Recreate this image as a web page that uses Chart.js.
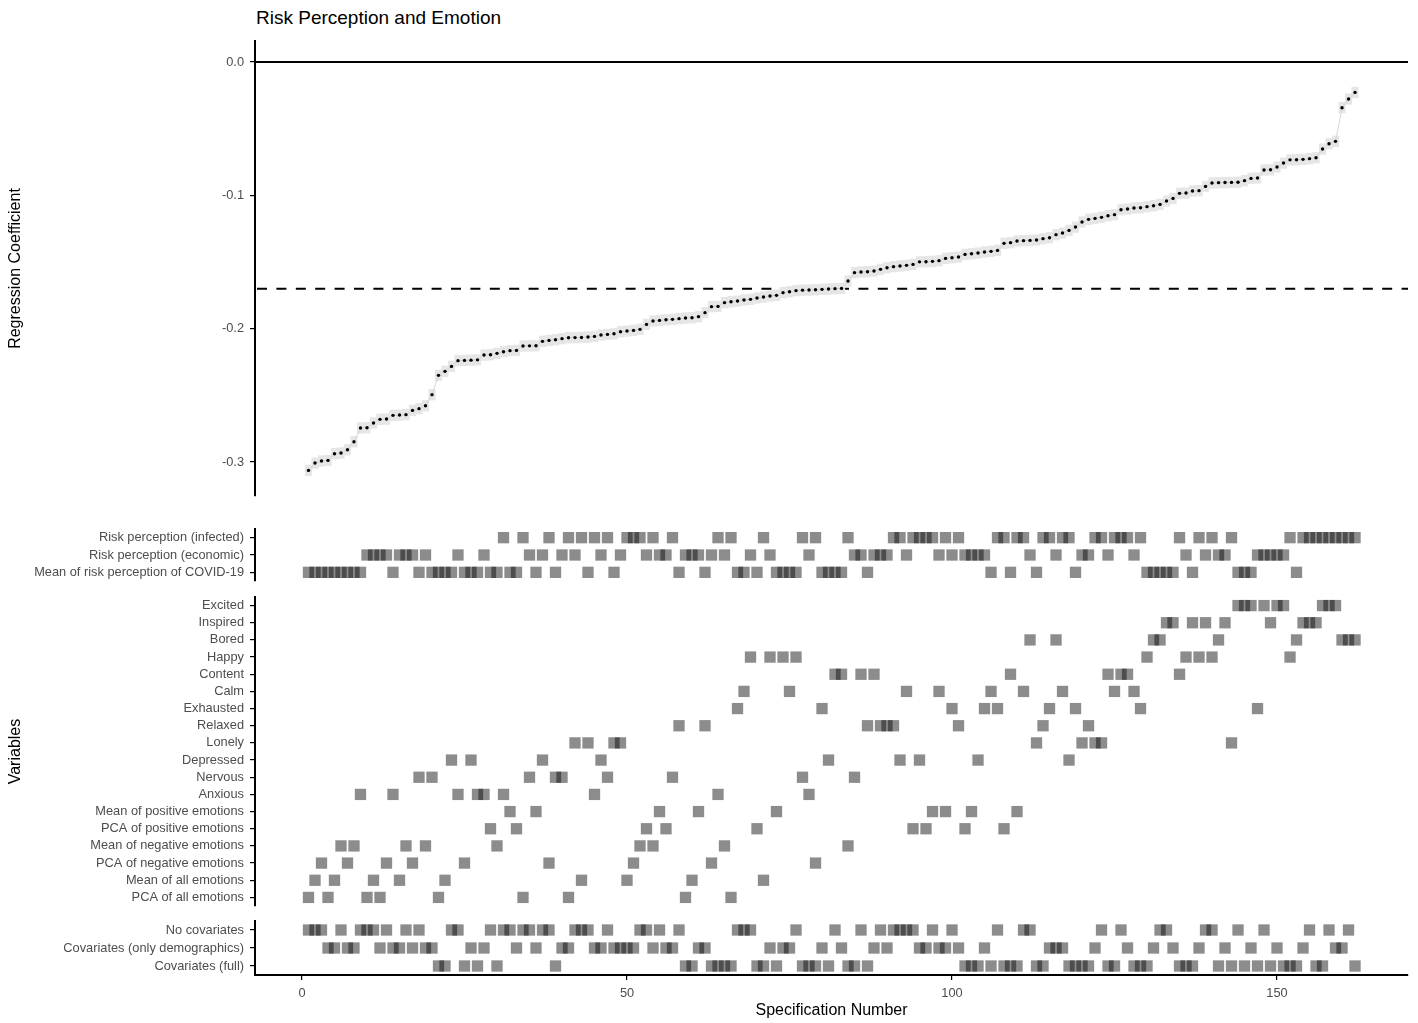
<!DOCTYPE html>
<html>
<head>
<meta charset="utf-8">
<script src="https://cdn.jsdelivr.net/npm/chart.js@4.4.0/dist/chart.umd.min.js"></script>
<style>
  html, body { margin: 0; padding: 0; background: #fff; overflow: hidden; }
  #wrap { position: relative; width: 1418px; height: 1023px; }
  #wrap canvas { position: absolute; left: 0; }
  #title { position: absolute; left: 256px; top: 8px; font: 19px/19px "Liberation Sans", Arial, sans-serif; color: #000; white-space: nowrap; }
</style>
</head>
<body>
<div id="wrap">
  <div id="title">Risk Perception and Emotion</div>
  <canvas id="curve" width="1418" height="475" style="top:31px"></canvas>
  <canvas id="risk" width="1418" height="72" style="top:519px"></canvas>
  <canvas id="emo" width="1418" height="329" style="top:587px"></canvas>
  <canvas id="cov" width="1418" height="109" style="top:911px"></canvas>
</div>
<script>
// regression coefficient per specification (spec 1..162, sorted)
const coefficients = [
  -0.3063, -0.3008, -0.2993, -0.2988, -0.2938, -0.2933, -0.2908, -0.2848, -0.2745, -0.2743,
  -0.2708, -0.2680, -0.2678, -0.2650, -0.2648, -0.2645, -0.2613, -0.2600, -0.2578, -0.2495,
  -0.2350, -0.2320, -0.2283, -0.2240, -0.2238, -0.2236, -0.2234, -0.2198, -0.2196, -0.2185,
  -0.2173, -0.2165, -0.2163, -0.2130, -0.2129, -0.2128, -0.2095, -0.2088, -0.2083, -0.2075,
  -0.2068, -0.2067, -0.2066, -0.2063, -0.2058, -0.2048, -0.2043, -0.2038, -0.2023, -0.2018,
  -0.2013, -0.2005, -0.1968, -0.1943, -0.1938, -0.1933, -0.1930, -0.1925, -0.1920, -0.1918,
  -0.1910, -0.1880, -0.1835, -0.1833, -0.1805, -0.1798, -0.1793, -0.1785, -0.1780, -0.1770,
  -0.1763, -0.1755, -0.1750, -0.1730, -0.1723, -0.1715, -0.1711, -0.1710, -0.1708, -0.1705,
  -0.1703, -0.1700, -0.1698, -0.1643, -0.1580, -0.1575, -0.1573, -0.1568, -0.1555, -0.1543,
  -0.1535, -0.1530, -0.1525, -0.1518, -0.1499, -0.1498, -0.1495, -0.1490, -0.1473, -0.1468,
  -0.1463, -0.1443, -0.1438, -0.1433, -0.1425, -0.1420, -0.1413, -0.1360, -0.1355, -0.1343,
  -0.1340, -0.1338, -0.1335, -0.1325, -0.1318, -0.1295, -0.1283, -0.1263, -0.1238, -0.1200,
  -0.1180, -0.1173, -0.1165, -0.1153, -0.1145, -0.1108, -0.1103, -0.1095, -0.1093, -0.1085,
  -0.1078, -0.1068, -0.1043, -0.1023, -0.0985, -0.0983, -0.0968, -0.0965, -0.0933, -0.0908,
  -0.0905, -0.0904, -0.0903, -0.0902, -0.0890, -0.0873, -0.0870, -0.0810, -0.0808, -0.0788,
  -0.0758, -0.0734, -0.0733, -0.0730, -0.0725, -0.0718, -0.0653, -0.0613, -0.0595, -0.0343,
  -0.0278, -0.0228
];

const riskLabels = [
  'Risk perception (infected)',
  'Risk perception (economic)',
  'Mean of risk perception of COVID-19'
];
const emotionLabels = [
  'Excited', 'Inspired', 'Bored', 'Happy', 'Content', 'Calm', 'Exhausted', 'Relaxed',
  'Lonely', 'Depressed', 'Nervous', 'Anxious',
  'Mean of positive emotions', 'PCA of positive emotions',
  'Mean of negative emotions', 'PCA of negative emotions',
  'Mean of all emotions', 'PCA of all emotions'
];
const covariateLabels = ['No covariates', 'Covariates (only demographics)', 'Covariates (full)'];

// row index (into the label lists above) used by each specification
const specRisk = [
  2,2,2,2,2,2,2,2,2,1, 1,1,1,2,1,1,1,2,1,2, 2,2,2,1,2,2,2,1,2,2, 0,2,2,0,1,2,1,0,2,1,
  0,1,0,2,0,1,0,2,1,0, 0,0,1,0,1,1,0,2,1,1, 1,2,1,0,1,0,2,2,1,2, 0,1,2,2,2,2,0,1,0,2,
  2,2,2,0,1,1,2,1,1,1, 0,0,1,0,0,0,0,1,0,1, 0,1,1,1,1,2,0,0,2,0, 0,1,2,0,0,1,0,0,2,1,
  1,0,0,1,0,0,0,1,0,2, 2,2,2,2,0,1,2,0,1,0, 1,1,0,2,2,2,1,1,1,1, 1,0,2,0,0,0,0,0,0,0,
  0,0
];
const specEmotion = [
  17,16,15,17,16,14,15,14,11,17, 16,17,15,11,16,14,15,10,14,10, 17,16,9,11,15,9,11,11,13,14,
  11,12,13,17,10,12,9,15,10,10, 17,8,16,8,11,9,10,8,8,16, 15,14,13,14,12,13,10,7,17,16,
  12,7,15,11,14,17,6,5,3,13, 16,3,12,3,5,3,10,11,15,6, 9,4,4,14,10,4,7,4,7,7,
  7,9,5,13,9,13,12,5,12,6, 7,13,12,9,6,5,6,13,4,12, 5,2,8,7,6,2,5,9,6,8,
  7,8,8,4,5,4,4,5,6,3, 2,2,1,1,4,3,1,3,1,3, 2,1,8,0,0,0,6,0,1,0,
  0,3,2,1,1,1,0,0,0,2, 2,2
];
const specCovariate = [
  0,0,0,1,1,0,1,1,0,0, 0,1,0,1,1,0,1,0,1,1, 2,2,0,0,2,1,2,1,0,2, 0,0,1,0,0,1,0,0,2,1,
  1,0,0,0,1,1,0,1,1,1, 1,0,0,1,0,1,1,0,2,2, 1,1,2,2,2,2,0,0,0,2, 2,1,2,1,1,0,2,2,2,1,
  2,0,1,2,2,0,2,1,0,1, 0,0,0,0,1,1,0,1,1,0, 1,2,2,2,1,2,0,2,2,2, 0,0,2,2,1,1,1,2,2,2,
  2,1,0,2,2,0,1,2,2,2, 1,0,0,1,2,2,2,1,0,0, 2,1,2,0,2,1,2,0,2,1, 2,2,2,1,0,2,2,0,1,1,
  0,2
];

const xTicks = [0, 50, 100, 150];
const yTicks = [0, -0.1, -0.2, -0.3];

Chart.defaults.font.family = '"Liberation Sans", Arial, Helvetica, sans-serif';
Chart.defaults.animation = false;

const xMin = -7.23, xMax = 170.15;
const tickGray = '#4d4d4d';
const tickFont = { size: 12.8 };

const sortedCoef = [...coefficients].sort((a, b) => a - b);
const mid = Math.floor(sortedCoef.length / 2);
const medianCoef = sortedCoef.length % 2 ? sortedCoef[mid] : (sortedCoef[mid - 1] + sortedCoef[mid]) / 2;

function xScale(show) {
  return {
    type: 'linear',
    min: xMin,
    max: xMax,
    display: show,
    offset: false,
    afterBuildTicks: s => { s.ticks = xTicks.map(v => ({ value: v })); },
    grid: { drawOnChartArea: false, tickLength: 5, color: '#000', lineWidth: 1.2 },
    border: { color: '#000', width: 2 },
    ticks: { color: tickGray, font: tickFont, padding: 6, maxRotation: 0 },
    title: { display: show, text: 'Specification Number', color: '#000', font: { size: 16 }, padding: { top: 0, bottom: 0 } },
    afterFit: s => { s.height = show ? 45 : 0; }
  };
}

function yFit(s) {
  s.width = 255;
  s.paddingTop = 0;
  s.paddingBottom = 0;
}

const baseOptions = {
  responsive: false,
  devicePixelRatio: 1,
  events: [],
  plugins: { legend: { display: false }, tooltip: { enabled: false } }
};

const refLines = {
  id: 'refLines',
  beforeDatasetsDraw(chart) {
    const { ctx, chartArea: a, scales: { y } } = chart;
    ctx.save();
    ctx.strokeStyle = '#000';
    ctx.lineWidth = 2;
    const y0 = y.getPixelForValue(0);
    ctx.beginPath(); ctx.moveTo(a.left, y0); ctx.lineTo(a.right, y0); ctx.stroke();
    const ym = y.getPixelForValue(medianCoef);
    ctx.setLineDash([10, 9.4]);
    ctx.beginPath(); ctx.moveTo(a.left + 2, ym); ctx.lineTo(a.right, ym); ctx.stroke();
    ctx.restore();
  }
};

// top panel: specification curve
new Chart(document.getElementById('curve'), {
  type: 'scatter',
  data: {
    datasets: [
      {
        data: coefficients.map((v, i) => ({ x: i + 1, y: v })),
        backgroundColor: '#000',
        pointRadius: 1.7,
        pointBorderWidth: 0,
        order: 0
      },
      {
        type: 'line',
        data: coefficients.map((v, i) => ({ x: i + 1, y: v })),
        borderColor: '#d6d6d6',
        borderWidth: 1,
        pointRadius: 0,
        order: 1
      },
      {
        type: 'bar',
        data: coefficients.map((v, i) => ({ x: i + 1, y: [v - 0.004, v + 0.004] })),
        backgroundColor: '#e6e6e6',
        borderWidth: 0,
        barPercentage: 1,
        categoryPercentage: 1,
        order: 2
      }
    ]
  },
  options: {
    ...baseOptions,
    layout: { padding: { left: 0, right: 10, top: 10, bottom: 10 } },
    scales: {
      x: xScale(false),
      y: {
        type: 'linear',
        min: -0.3255,
        max: 0.01575,
        beginAtZero: false,
        afterBuildTicks: s => { s.ticks = yTicks.map(v => ({ value: v })); },
        afterFit: yFit,
        grid: { drawOnChartArea: false, tickLength: 5, color: '#000', lineWidth: 1.2 },
        border: { color: '#000', width: 2 },
        ticks: { color: tickGray, font: tickFont, padding: 6, callback: v => v.toFixed(1) },
        title: { display: true, text: 'Regression Coefficient', color: '#000', font: { size: 16 }, padding: { top: 6 } }
      }
    }
  },
  plugins: [refLines]
});

// tile panels: which choice each specification uses
function tileChart(id, labels, rows, showX, yTitle) {
  return new Chart(document.getElementById(id), {
    type: 'scatter',
    data: {
      datasets: [{
        data: rows.map((r, i) => ({ x: i + 1, y: r })),
        pointStyle: 'rect',
        pointRadius: 8,
        pointBorderWidth: 0,
        backgroundColor: 'rgba(0,0,0,0.45)'
      }]
    },
    options: {
      ...baseOptions,
      layout: { padding: { left: 0, right: 10, top: 10, bottom: showX ? 0 : 10 } },
      scales: {
        x: xScale(showX),
        y: {
          type: 'linear',
          min: -0.5,
          max: labels.length - 0.5,
          reverse: true,
          afterBuildTicks: s => { s.ticks = labels.map((_, i) => ({ value: i })); },
          afterFit: yFit,
          grid: { drawOnChartArea: false, tickLength: 5, color: '#000', lineWidth: 1.2 },
          border: { color: '#000', width: 2 },
          ticks: { color: tickGray, font: tickFont, padding: 6, autoSkip: false, callback: v => labels[v] },
          title: { display: !!yTitle, text: yTitle || '', color: '#000', font: { size: 16 }, padding: { top: 6 } }
        }
      }
    }
  });
}

tileChart('risk', riskLabels, specRisk, false, null);
tileChart('emo', emotionLabels, specEmotion, false, 'Variables');
tileChart('cov', covariateLabels, specCovariate, true, null);
</script>
</body>
</html>
